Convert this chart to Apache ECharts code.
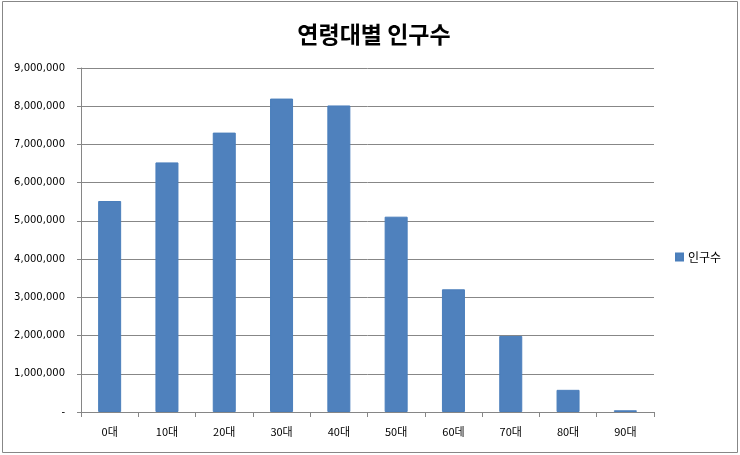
<!DOCTYPE html>
<html>
<head>
<meta charset="utf-8">
<script src="https://cdn.jsdelivr.net/npm/echarts@6/dist/echarts.min.js"></script>
<style>
html,body{margin:0;padding:0;background:#fff;}
#main{width:740px;height:455px;}
</style>
</head>
<body>
<div id="main"></div>
<script>
// 연령대별 인구수 데이터
const categories = ['0대','10대','20대','30대','40대','50대','60데','70대','80대','90대'];
const population = [5520000, 6530000, 7310000, 8200000, 8020000, 5110000, 3210000, 1990000, 580000, 45000];
const seriesName = '인구수';

const fmt = v => v === 0 ? '-' : String(v).replace(/\B(?=(\d{3})+(?!\d))/g, ',');

const chart = echarts.init(document.getElementById('main'));

chart.setOption({
    animation: false,
    backgroundColor: '#fff',
    title: {
        text: '연령대별 인구수',
        left: 369,
        top: 18,
        textAlign: 'center',
        textStyle: {
            fontFamily: 'Noto Sans CJK KR',
            fontSize: 23,
            fontWeight: 'bold',
            color: '#000'
        }
    },
    legend: {
        data: [seriesName],
        left: 670,
        top: 246,
        icon: 'rect',
        itemWidth: 7,
        itemHeight: 7,
        itemGap: 4,
        textStyle: {fontFamily: 'Noto Sans CJK KR', fontSize: 12, color: '#000'}
    },
    grid: {left: 81, right: 86, top: 68, bottom: 43},
    xAxis: {
        type: 'category',
        data: categories,
        axisLine: {lineStyle: {color: '#868686'}},
        axisTick: {show: true, length: 5, inside: false, lineStyle: {color: '#868686'}},
        axisLabel: {
            margin: 14,
            fontFamily: 'Noto Sans CJK KR',
            fontSize: 11,
            color: '#000'
        }
    },
    yAxis: {
        type: 'value',
        min: 0,
        max: 9000000,
        interval: 1000000,
        axisLine: {show: true, lineStyle: {color: '#868686'}},
        axisTick: {show: true, length: 4, lineStyle: {color: '#868686'}},
        splitLine: {lineStyle: {color: '#878787'}},
        axisLabel: {
            margin: 16,
            formatter: fmt,
            fontFamily: 'DejaVu Sans',
            fontSize: 10,
            color: '#000'
        }
    },
    series: [{
        name: seriesName,
        type: 'bar',
        data: population,
        barWidth: 23,
        itemStyle: {color: '#4f81bd', borderColor: '#4a7ebb', borderWidth: 1}
    }],
    graphic: [{
        type: 'rect',
        shape: {x: 2.5, y: 1.5, width: 735, height: 451},
        style: {fill: 'none', stroke: '#878787', lineWidth: 1},
        silent: true
    }]
});
</script>
</body>
</html>
